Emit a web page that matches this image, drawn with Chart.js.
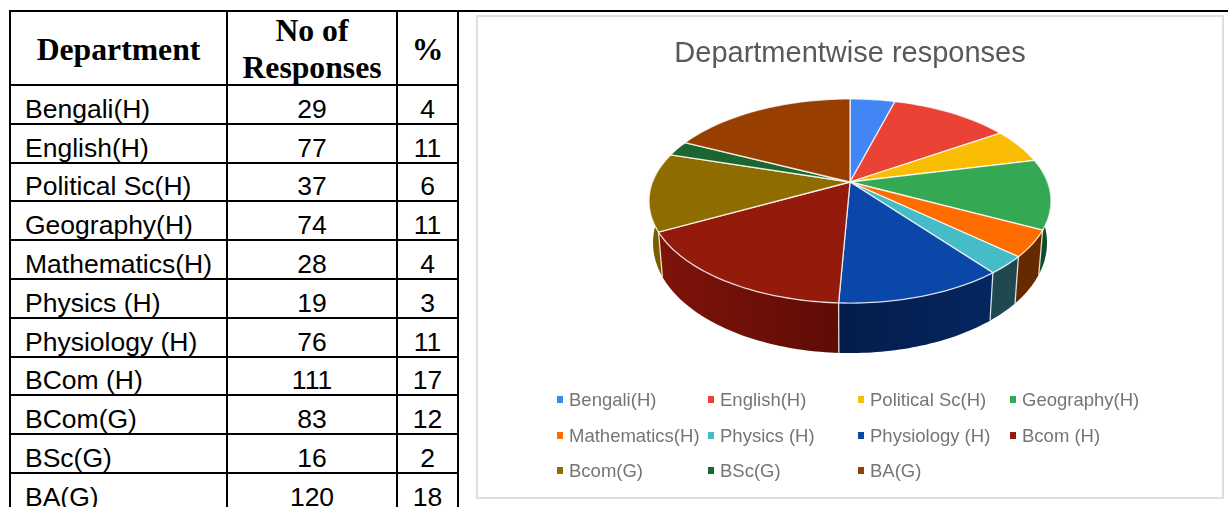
<!DOCTYPE html>
<html>
<head>
<meta charset="utf-8">
<title>Departmentwise responses</title>
<script src="https://cdn.jsdelivr.net/npm/chart.js@4"></script>
<style>
    html, body { margin: 0; padding: 0; background: #fff; overflow: hidden; width: 1228px; height: 507px; }
    #topline { position: absolute; left: 9px; top: 10px; width: 1219px; height: 2px; background: #000; }
    #sheet { position: absolute; left: 9px; top: 10px; border-collapse: collapse; table-layout: fixed; width: 449px; color: #000; }
    #sheet th, #sheet td { border: 2px solid #000; padding: 0; overflow: hidden; white-space: nowrap; }
    #sheet th { font: bold 31.7px/37px "Liberation Serif", serif; height: 72px; text-align: center; }
    #sheet th div { height: 72px; box-sizing: border-box; padding-top: 2px; display: flex; align-items: center; justify-content: center; }
    #sheet td { font: 26.5px/28px "Liberation Sans", Arial, sans-serif; height: 36.8px; text-align: center; vertical-align: bottom; }
    #sheet td:first-child { text-align: left; padding-left: 14px; }
    #panel { position: absolute; left: 476px; top: 15px; width: 744px; height: 480px; border: 2px solid #dedede; }
    #budget { position: absolute; left: -1px; top: -3px; }
    #legend { position: absolute; left: 79px; top: 365px; display: grid; grid-template-columns: 151px 150px 152px 140px; grid-auto-rows: 35.5px; font: 18.5px/35.5px "Liberation Sans", Arial, sans-serif; color: #757575; white-space: nowrap; }
    #legend span.key { display: inline-block; width: 6px; height: 7px; margin-right: 6px; vertical-align: 3px; }
</style>
</head>
<body>
<div id="topline"></div>
<table id="sheet">
    <colgroup><col style="width:217px"><col style="width:170px"><col style="width:61px"></colgroup>
    <thead><tr><th><div><span>Department</span></div></th><th><div><span>No of<br>Responses</span></div></th><th><div><span>%</span></div></th></tr></thead>
    <tbody id="rows"></tbody>
</table>
<div id="panel">
    <canvas id="budget" width="747" height="484"></canvas>
    <div id="legend"></div>
</div>
<script>
const DEPARTMENTS = ['Bengali(H)', 'English(H)', 'Political Sc(H)', 'Geography(H)', 'Mathematics(H)', 'Physics (H)', 'Physiology (H)', 'BCom (H)', 'BCom(G)', 'BSc(G)', 'BA(G)'];
const LEGEND_LABELS = ['Bengali(H)', 'English(H)', 'Political Sc(H)', 'Geography(H)', 'Mathematics(H)', 'Physics (H)', 'Physiology (H)', 'Bcom (H)', 'Bcom(G)', 'BSc(G)', 'BA(G)'];
const RESPONSES = [29, 77, 37, 74, 28, 19, 76, 111, 83, 16, 120];
const PERCENTS = [4, 11, 6, 11, 4, 3, 11, 17, 12, 2, 18];
const COLORS = ['#4285f4', '#ea4335', '#fbbc04', '#34a853', '#ff6d01', '#46bdc6', '#0b47a9', '#941a0c', '#8f6c00', '#1c6530', '#983e00'];
const WALL_LEFT = ['#000', '#000', '#000', '#104c26', '#662a00', '#1f4850', '#052660', '#5e0c06', '#7a5d00', '#000', '#000'];
const WALL_RIGHT = ['#000', '#000', '#000', '#104c26', '#662a00', '#1f4850', '#051c4a', '#7f130a', '#7a5d00', '#000', '#000'];

// perspective of the tilted disc, worked out from where the slice edges land
const PERSPECTIVE = 0.186;
const FLATTEN = 0.499;
const EDGE = 'rgba(255,255,255,0.8)';

function project(arc, angle) {
    const a = angle + Math.PI / 2;
    const u = Math.sin(a);
    const v = -Math.cos(a);
    const w = 1 - PERSPECTIVE * v;
    return {
        x: arc.x + arc.outerRadius * u / w,
        y: arc.y + arc.outerRadius * FLATTEN * v / w,
        v: v
    };
}

function lowerRim(arc, p) {
    return { x: arc.x + (p.x - arc.x) * 0.98, y: p.y + 40 + 10 * p.v };
}

function rimPoints(arc, from, to) {
    const pts = [];
    const steps = Math.max(2, Math.ceil((to - from) / 0.02));
    for (let i = 0; i <= steps; i++) {
        pts.push(project(arc, from + (to - from) * i / steps));
    }
    return pts;
}

const tiltedPie = {
    id: 'tiltedPie',
    beforeDatasetDraw(chart) {
        const ctx = chart.ctx;
        const arcs = chart.getDatasetMeta(0).data;
        const frontFrom = -Math.PI / 2 + 80 * Math.PI / 180;
        const frontTo = -Math.PI / 2 + 280 * Math.PI / 180;

        // side walls
        arcs.forEach((arc, i) => {
            const from = Math.max(arc.startAngle, frontFrom);
            const to = Math.min(arc.endAngle, frontTo);
            if (to <= from) return;
            const top = rimPoints(arc, from, to);
            const bottom = top.map(p => lowerRim(arc, p)).reverse();
            const xs = top.map(p => p.x);
            const grad = ctx.createLinearGradient(Math.min(...xs), 0, Math.max(...xs), 0);
            grad.addColorStop(0, WALL_RIGHT[i]);
            grad.addColorStop(1, WALL_LEFT[i]);
            ctx.beginPath();
            top.concat(bottom).forEach((p, k) => k ? ctx.lineTo(p.x, p.y) : ctx.moveTo(p.x, p.y));
            ctx.closePath();
            ctx.fillStyle = grad;
            ctx.fill();
        });

        // edges between the walls, after all fills so none get painted over
        arcs.forEach(arc => {
            if (arc.endAngle <= frontFrom || arc.endAngle >= frontTo) return;
            const p = project(arc, arc.endAngle);
            const q = lowerRim(arc, p);
            ctx.beginPath();
            ctx.moveTo(p.x, p.y);
            ctx.lineTo(q.x, q.y);
            ctx.strokeStyle = EDGE;
            ctx.lineWidth = 1.3;
            ctx.stroke();
        });

        // top face
        arcs.forEach((arc, i) => {
            const rim = rimPoints(arc, arc.startAngle, arc.endAngle);
            ctx.beginPath();
            ctx.moveTo(arc.x, arc.y);
            rim.forEach(p => ctx.lineTo(p.x, p.y));
            ctx.closePath();
            ctx.fillStyle = COLORS[i];
            ctx.fill();
            ctx.strokeStyle = EDGE;
            ctx.lineWidth = 1.3;
            ctx.stroke();
        });
        return false;
    }
};

// table rows
document.getElementById('rows').innerHTML = DEPARTMENTS.map((name, i) =>
    `<tr><td>${name}</td><td>${RESPONSES[i]}</td><td>${PERCENTS[i]}</td></tr>`).join('');

// legend
document.getElementById('legend').innerHTML = LEGEND_LABELS.map((name, i) =>
    `<div><span class="key" style="background:${COLORS[i]}"></span>${name}</div>`).join('');

new Chart(document.getElementById('budget').getContext('2d'), {
    type: 'pie',
    data: {
        labels: LEGEND_LABELS,
        datasets: [{
            data: RESPONSES,
            backgroundColor: COLORS,
            borderWidth: 0,
            radius: 197.5
        }]
    },
    options: {
        responsive: false,
        animation: false,
        events: [],
        layout: { padding: { left: 0, right: 1, top: 0, bottom: 205.8 } },
        plugins: {
            legend: { display: false },
            tooltip: { enabled: false },
            title: {
                display: true,
                text: 'Departmentwise responses',
                color: '#595959',
                font: { family: '"Liberation Sans", Arial, sans-serif', size: 29, weight: 'normal', lineHeight: 1.2 },
                padding: { top: 23, bottom: 0 }
            }
        }
    },
    plugins: [tiltedPie]
});
</script>
</body>
</html>
